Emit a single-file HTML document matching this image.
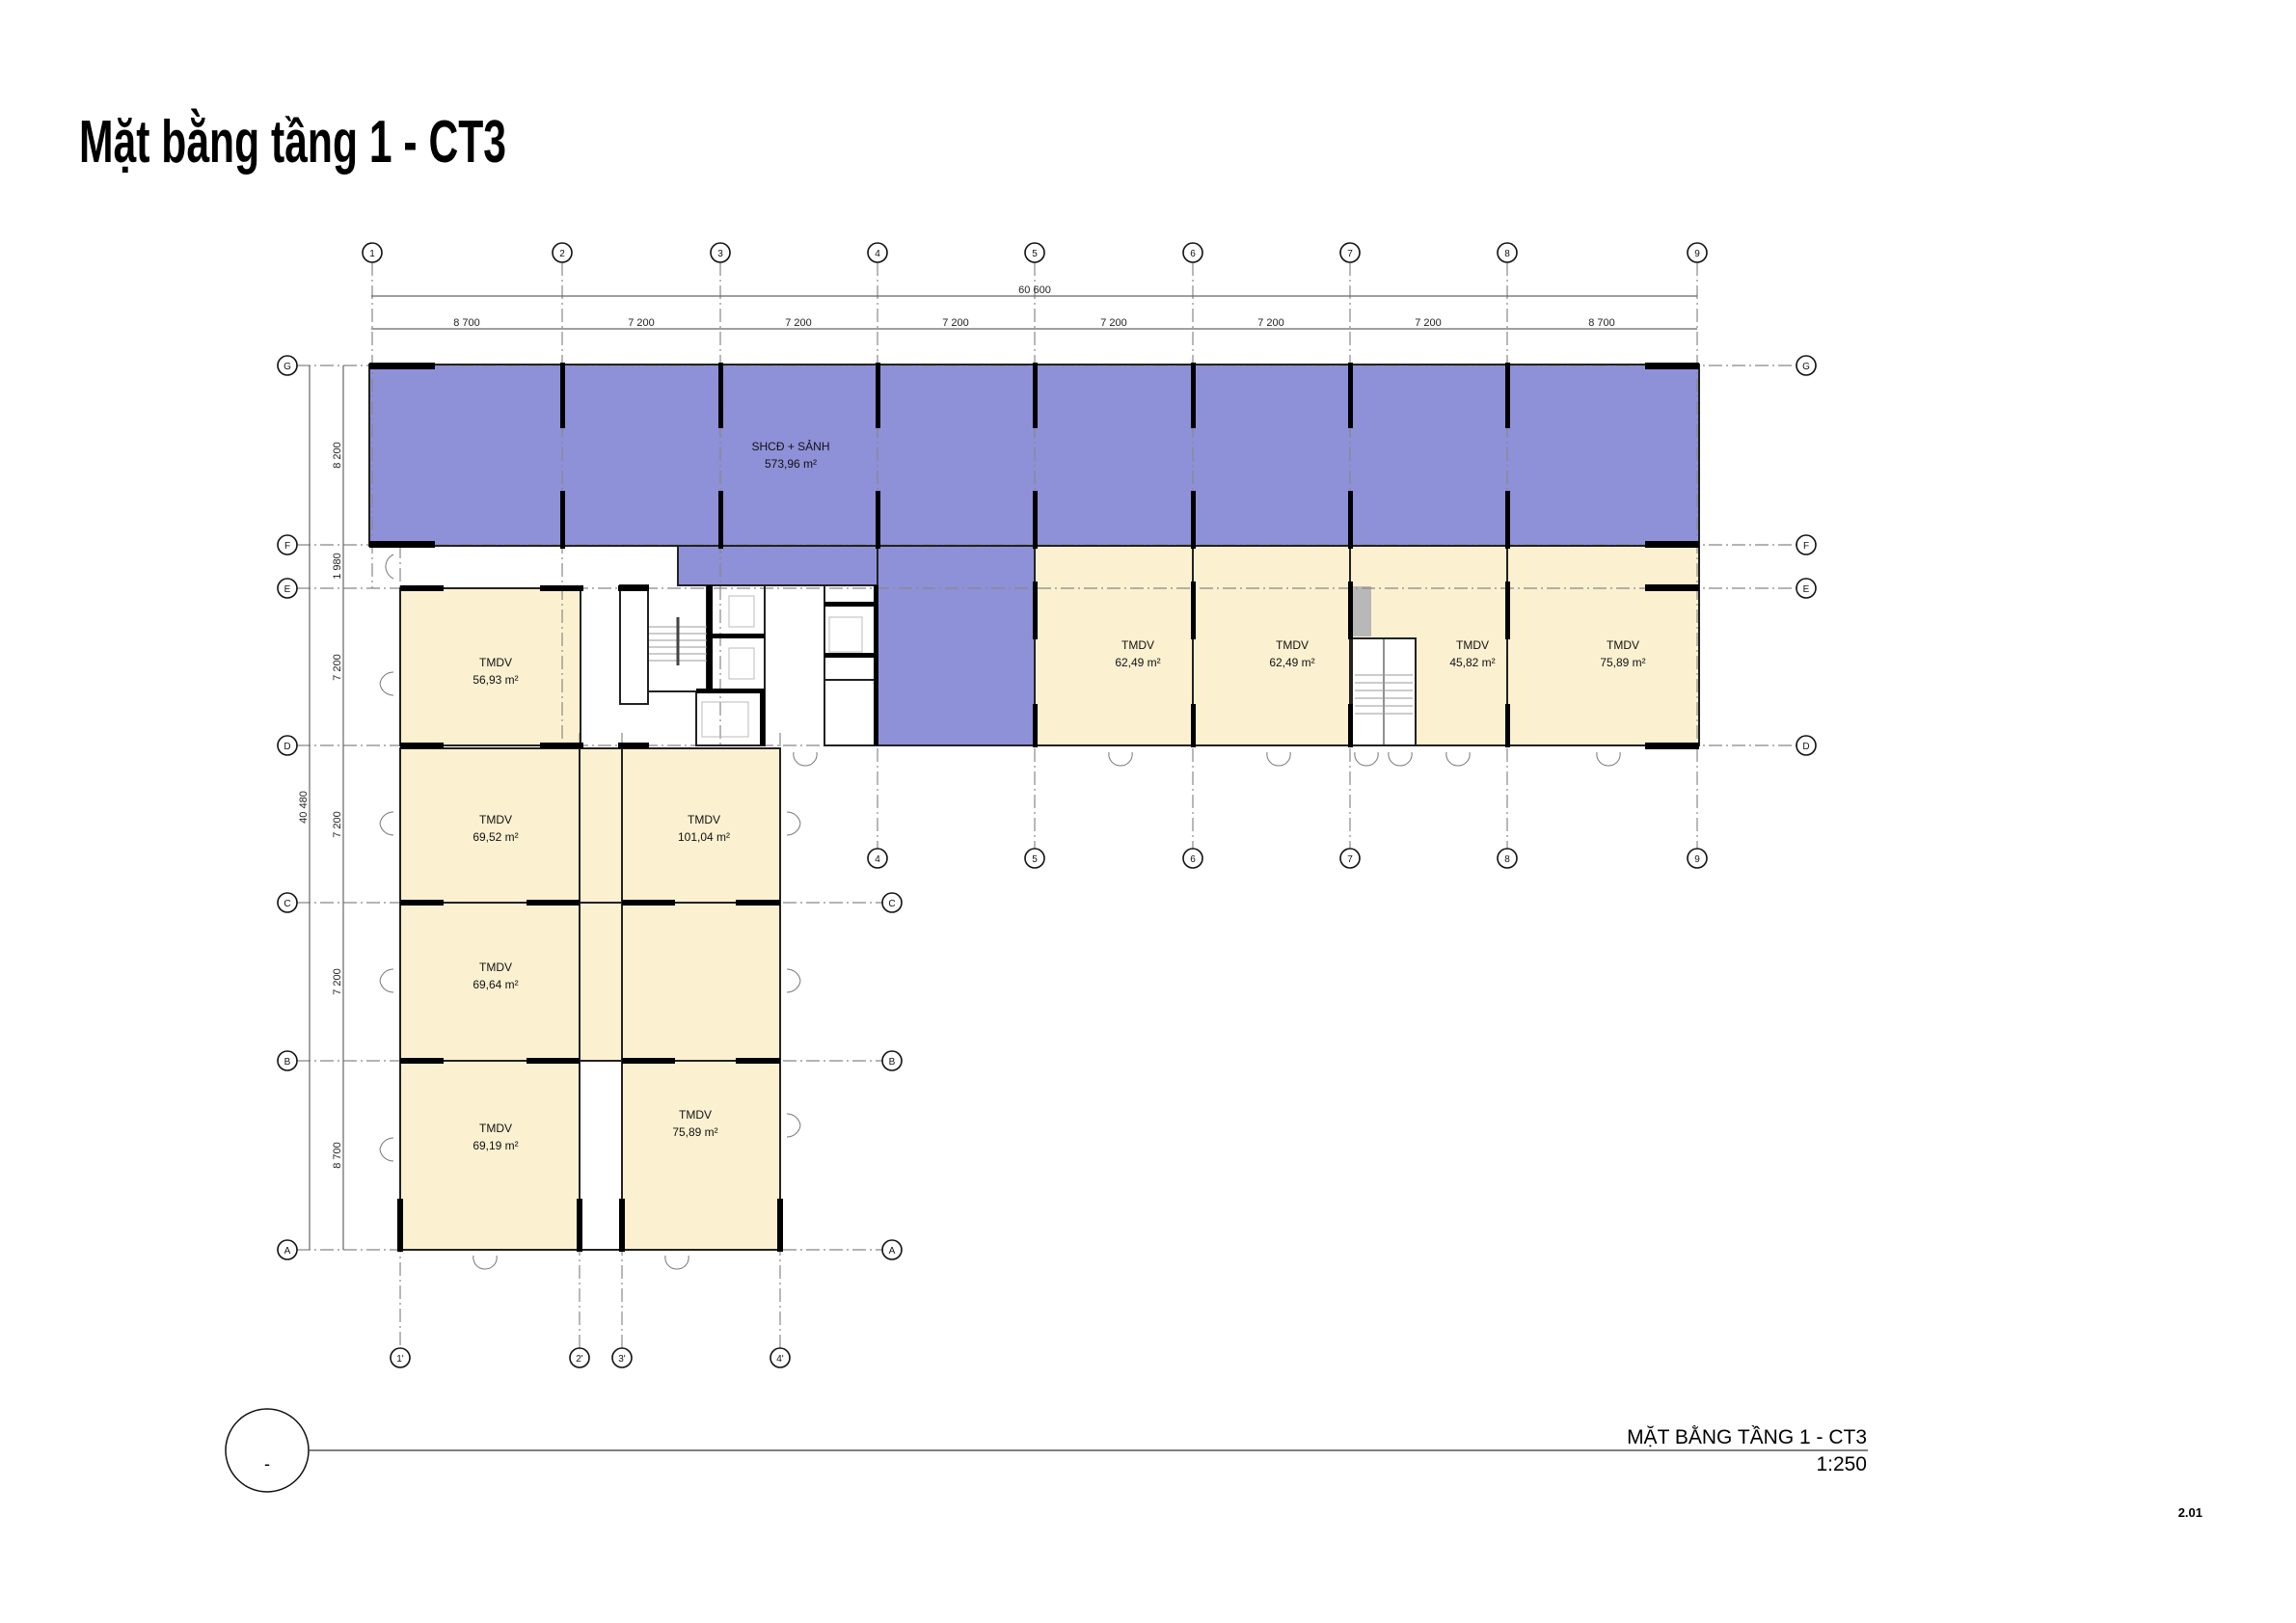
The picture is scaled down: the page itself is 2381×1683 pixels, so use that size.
<!DOCTYPE html>
<html><head><meta charset="utf-8"><style>
html,body{margin:0;padding:0;background:#fff}
svg{display:block}
text{font-family:"Liberation Sans",sans-serif}
</style></head><body>
<svg width="2381" height="1683" viewBox="0 0 2381 1683" xmlns="http://www.w3.org/2000/svg">
<text x="82" y="168" font-size="62" font-weight="bold" textLength="443" lengthAdjust="spacingAndGlyphs">Mặt bằng tầng 1 - CT3</text>

<!-- fills -->
<g stroke="none">
<rect x="383" y="378" width="1379" height="188" fill="#8e90d8"/>
<rect x="703" y="565" width="207" height="42" fill="#8e90d8"/>
<rect x="910" y="565" width="163" height="208" fill="#8e90d8"/>
<rect x="1073" y="566" width="689" height="207" fill="#fbf0d0"/>
<rect x="415" y="610" width="187" height="163" fill="#fbf0d0"/>
<rect x="415" y="776" width="394" height="324" fill="#fbf0d0"/>
<rect x="415" y="1100" width="186" height="196" fill="#fbf0d0"/>
<rect x="645" y="1100" width="164" height="196" fill="#fbf0d0"/>
<rect x="1403" y="608" width="19" height="52" fill="#b8b8b8"/>
<rect x="1402" y="662" width="66" height="111" fill="#fff"/>
</g>

<!-- grid lines -->
<g stroke="#888" stroke-width="1.2" stroke-dasharray="14,4,2,4" fill="none">
<line x1="386" y1="272" x2="386" y2="610"/>
<line x1="583" y1="272" x2="583" y2="773"/>
<line x1="747" y1="272" x2="747" y2="773"/>
<line x1="910" y1="272" x2="910" y2="880"/>
<line x1="1073" y1="272" x2="1073" y2="880"/>
<line x1="1237" y1="272" x2="1237" y2="880"/>
<line x1="1400" y1="272" x2="1400" y2="880"/>
<line x1="1563" y1="272" x2="1563" y2="880"/>
<line x1="1760" y1="272" x2="1760" y2="880"/>
<line x1="415" y1="565" x2="415" y2="1398"/>
<line x1="601" y1="760" x2="601" y2="1398"/>
<line x1="645" y1="760" x2="645" y2="1398"/>
<line x1="809" y1="760" x2="809" y2="1398"/>
<line x1="308" y1="379" x2="1863" y2="379"/>
<line x1="308" y1="565" x2="1863" y2="565"/>
<line x1="308" y1="610" x2="1863" y2="610"/>
<line x1="308" y1="773" x2="1863" y2="773"/>
<line x1="308" y1="936" x2="915" y2="936"/>
<line x1="308" y1="1100" x2="915" y2="1100"/>
<line x1="308" y1="1296" x2="915" y2="1296"/>
</g>

<!-- dimension lines -->
<g stroke="#666" stroke-width="1.2" fill="none">
<line x1="385" y1="307" x2="1760" y2="307"/>
<line x1="385" y1="341" x2="1760" y2="341"/>
<line x1="321" y1="379" x2="321" y2="1296"/>
<line x1="356" y1="379" x2="356" y2="1296"/>
</g>
<g font-size="11" fill="#222" text-anchor="middle">
<text x="1073" y="304">60 600</text>
<text x="484" y="338">8 700</text><text x="665" y="338">7 200</text><text x="828" y="338">7 200</text><text x="991" y="338">7 200</text><text x="1155" y="338">7 200</text><text x="1318" y="338">7 200</text><text x="1481" y="338">7 200</text><text x="1661" y="338">8 700</text>
<text transform="translate(353,472) rotate(-90)">8 200</text>
<text transform="translate(353,587) rotate(-90)">1 980</text>
<text transform="translate(353,692) rotate(-90)">7 200</text>
<text transform="translate(353,855) rotate(-90)">7 200</text>
<text transform="translate(353,1018) rotate(-90)">7 200</text>
<text transform="translate(353,1198) rotate(-90)">8 700</text>
<text transform="translate(318,837) rotate(-90)">40 480</text>
</g>

<!-- axis circles -->
<g fill="#fff" stroke="#111" stroke-width="1.6">
<circle cx="386" cy="262" r="10"/><circle cx="583" cy="262" r="10"/><circle cx="747" cy="262" r="10"/><circle cx="910" cy="262" r="10"/><circle cx="1073" cy="262" r="10"/><circle cx="1237" cy="262" r="10"/><circle cx="1400" cy="262" r="10"/><circle cx="1563" cy="262" r="10"/><circle cx="1760" cy="262" r="10"/>
<circle cx="910" cy="890" r="10"/><circle cx="1073" cy="890" r="10"/><circle cx="1237" cy="890" r="10"/><circle cx="1400" cy="890" r="10"/><circle cx="1563" cy="890" r="10"/><circle cx="1760" cy="890" r="10"/>
<circle cx="415" cy="1408" r="10"/><circle cx="601" cy="1408" r="10"/><circle cx="645" cy="1408" r="10"/><circle cx="809" cy="1408" r="10"/>
<circle cx="298" cy="379" r="10"/><circle cx="298" cy="565" r="10"/><circle cx="298" cy="610" r="10"/><circle cx="298" cy="773" r="10"/><circle cx="298" cy="936" r="10"/><circle cx="298" cy="1100" r="10"/><circle cx="298" cy="1296" r="10"/>
<circle cx="1873" cy="379" r="10"/><circle cx="1873" cy="565" r="10"/><circle cx="1873" cy="610" r="10"/><circle cx="1873" cy="773" r="10"/>
<circle cx="925" cy="936" r="10"/><circle cx="925" cy="1100" r="10"/><circle cx="925" cy="1296" r="10"/>
</g>
<g font-size="10" fill="#111" text-anchor="middle">
<text x="386" y="266">1</text><text x="583" y="266">2</text><text x="747" y="266">3</text><text x="910" y="266">4</text><text x="1073" y="266">5</text><text x="1237" y="266">6</text><text x="1400" y="266">7</text><text x="1563" y="266">8</text><text x="1760" y="266">9</text>
<text x="910" y="894">4</text><text x="1073" y="894">5</text><text x="1237" y="894">6</text><text x="1400" y="894">7</text><text x="1563" y="894">8</text><text x="1760" y="894">9</text>
<text x="415" y="1412">1'</text><text x="601" y="1412">2'</text><text x="645" y="1412">3'</text><text x="809" y="1412">4'</text>
<text x="298" y="383">G</text><text x="298" y="569">F</text><text x="298" y="614">E</text><text x="298" y="777">D</text><text x="298" y="940">C</text><text x="298" y="1104">B</text><text x="298" y="1300">A</text>
<text x="1873" y="383">G</text><text x="1873" y="569">F</text><text x="1873" y="614">E</text><text x="1873" y="777">D</text>
<text x="925" y="940">C</text><text x="925" y="1104">B</text><text x="925" y="1300">A</text>
</g>

<!-- walls outlines -->
<g stroke="#222" stroke-width="2" fill="none">
<rect x="383" y="378" width="1379" height="188"/>
<polyline points="383,566 703,566 703,607 910,607"/>
<line x1="910" y1="565" x2="910" y2="773"/>
<line x1="1073" y1="566" x2="1073" y2="773"/>
<polyline points="910,773 1762,773 1762,566"/>
<line x1="1237" y1="566" x2="1237" y2="773"/>
<line x1="1400" y1="566" x2="1400" y2="773"/>
<line x1="1563" y1="566" x2="1563" y2="773"/>
<polyline points="1402,773 1402,662 1468,662 1468,773"/>
<line x1="1435" y1="662" x2="1435" y2="773" stroke-width="1"/>
<rect x="415" y="610" width="187" height="163"/>
<rect x="415" y="776" width="394" height="520"/>
<line x1="601" y1="773" x2="601" y2="1296"/>
<line x1="645" y1="773" x2="645" y2="1296"/>
<line x1="415" y1="936" x2="809" y2="936"/>
<line x1="415" y1="1100" x2="809" y2="1100"/>
<line x1="601" y1="1100" x2="645" y2="1100"/>
<rect x="643" y="607" width="29" height="123"/>
<rect x="733" y="607" width="60" height="110"/>
<line x1="733" y1="660" x2="793" y2="660"/>
<rect x="722" y="717" width="71" height="56"/>
<rect x="855" y="607" width="55" height="166"/>
<line x1="855" y1="627" x2="910" y2="627"/>
<line x1="855" y1="680" x2="910" y2="680"/>
<line x1="855" y1="705" x2="910" y2="705"/>
<line x1="672" y1="717" x2="722" y2="717"/>
</g>
<!-- stair treads -->
<g stroke="#999" stroke-width="1">
<line x1="673" y1="650" x2="733" y2="650"/><line x1="673" y1="657" x2="733" y2="657"/><line x1="673" y1="664" x2="733" y2="664"/><line x1="673" y1="671" x2="733" y2="671"/><line x1="673" y1="678" x2="733" y2="678"/><line x1="673" y1="685" x2="733" y2="685"/>
<line x1="703" y1="640" x2="703" y2="690" stroke="#444" stroke-width="3"/>
<line x1="1405" y1="700" x2="1465" y2="700"/><line x1="1405" y1="708" x2="1465" y2="708"/><line x1="1405" y1="716" x2="1465" y2="716"/><line x1="1405" y1="724" x2="1465" y2="724"/><line x1="1405" y1="732" x2="1465" y2="732"/><line x1="1405" y1="740" x2="1465" y2="740"/>
<rect x="756" y="618" width="26" height="32" fill="none" stroke="#bbb"/><rect x="756" y="672" width="26" height="32" fill="none" stroke="#bbb"/><rect x="728" y="728" width="48" height="36" fill="none" stroke="#bbb"/><rect x="860" y="640" width="34" height="36" fill="none" stroke="#bbb"/>
</g>

<!-- black piers -->
<g fill="#000">
<rect x="383" y="376" width="68" height="7"/><rect x="383" y="561" width="68" height="7"/>
<rect x="1706" y="376" width="56" height="7"/><rect x="1706" y="561" width="56" height="7"/><rect x="1706" y="606" width="56" height="7"/><rect x="1706" y="770" width="56" height="7"/>
<rect x="581" y="376" width="5" height="68"/><rect x="745" y="376" width="5" height="68"/><rect x="908" y="376" width="5" height="68"/><rect x="1071" y="376" width="5" height="68"/><rect x="1235" y="376" width="5" height="68"/><rect x="1398" y="376" width="5" height="68"/><rect x="1561" y="376" width="5" height="68"/>
<rect x="581" y="509" width="5" height="60"/><rect x="745" y="509" width="5" height="60"/><rect x="908" y="509" width="5" height="60"/><rect x="1071" y="509" width="5" height="60"/><rect x="1235" y="509" width="5" height="60"/><rect x="1398" y="509" width="5" height="60"/><rect x="1561" y="509" width="5" height="60"/>
<rect x="1071" y="603" width="5" height="60"/><rect x="1235" y="603" width="5" height="60"/><rect x="1561" y="603" width="5" height="60"/><rect x="1398" y="603" width="5" height="60"/>
<rect x="1071" y="730" width="5" height="45"/><rect x="1235" y="730" width="5" height="45"/><rect x="1398" y="730" width="5" height="45"/><rect x="1561" y="730" width="5" height="45"/>
<rect x="415" y="607" width="45" height="6"/><rect x="560" y="607" width="45" height="6"/><rect x="641" y="607" width="32" height="6"/>
<rect x="415" y="770" width="45" height="6"/><rect x="560" y="770" width="45" height="6"/><rect x="641" y="770" width="32" height="6"/>
<rect x="415" y="933" width="45" height="6"/><rect x="546" y="933" width="55" height="6"/><rect x="645" y="933" width="55" height="6"/><rect x="763" y="933" width="46" height="6"/>
<rect x="415" y="1097" width="45" height="6"/><rect x="546" y="1097" width="55" height="6"/><rect x="645" y="1097" width="55" height="6"/><rect x="763" y="1097" width="46" height="6"/>
<rect x="412" y="1243" width="6" height="55"/><rect x="598" y="1243" width="6" height="55"/><rect x="642" y="1243" width="6" height="55"/><rect x="806" y="1243" width="6" height="55"/>
<rect x="733" y="607" width="6" height="110"/><rect x="733" y="657" width="60" height="5"/><rect x="722" y="714" width="71" height="5"/><rect x="788" y="717" width="5" height="56"/><rect x="855" y="624" width="55" height="5"/><rect x="855" y="677" width="55" height="5"/>
<rect x="906" y="607" width="5" height="166"/>
</g>
<!-- doors -->
<g stroke="#777" stroke-width="1" fill="none">
<path d="M408,697 a14,14 0 0 0 -14,12 M408,721 a14,14 0 0 1 -14,-12"/>
<path d="M408,842 a14,14 0 0 0 -14,12 M408,866 a14,14 0 0 1 -14,-12"/>
<path d="M408,1005 a14,14 0 0 0 -14,12 M408,1029 a14,14 0 0 1 -14,-12"/>
<path d="M408,1180 a14,14 0 0 0 -14,12 M408,1204 a14,14 0 0 1 -14,-12"/>
<path d="M816,842 a14,14 0 0 1 14,12 M816,866 a14,14 0 0 0 14,-12"/>
<path d="M816,1005 a14,14 0 0 1 14,12 M816,1029 a14,14 0 0 0 14,-12"/>
<path d="M816,1155 a14,14 0 0 1 14,12 M816,1179 a14,14 0 0 0 14,-12"/>
<path d="M491,1302 a12,12 0 0 0 12,14 M515,1302 a12,12 0 0 1 -12,14"/>
<path d="M690,1302 a12,12 0 0 0 12,14 M714,1302 a12,12 0 0 1 -12,14"/>
<path d="M823,780 a12,12 0 0 0 12,14 M847,780 a12,12 0 0 1 -12,14"/>
<path d="M1150,780 a12,12 0 0 0 12,14 M1174,780 a12,12 0 0 1 -12,14"/>
<path d="M1314,780 a12,12 0 0 0 12,14 M1338,780 a12,12 0 0 1 -12,14"/>
<path d="M1405,780 a12,12 0 0 0 12,14 M1429,780 a12,12 0 0 1 -12,14"/>
<path d="M1440,780 a12,12 0 0 0 12,14 M1464,780 a12,12 0 0 1 -12,14"/>
<path d="M1500,780 a12,12 0 0 0 12,14 M1524,780 a12,12 0 0 1 -12,14"/>
<path d="M1656,780 a12,12 0 0 0 12,14 M1680,780 a12,12 0 0 1 -12,14"/>
<path d="M408,575 a14,14 0 0 0 -8,14 M408,600 a14,14 0 0 1 -8,-12"/>
</g>

<!-- room labels -->
<g font-size="12" fill="#111" text-anchor="middle">
<text x="820" y="467">SHCĐ + SẢNH</text><text x="820" y="485">573,96 m²</text>
<text x="1180" y="673">TMDV</text><text x="1180" y="691">62,49 m²</text>
<text x="1340" y="673">TMDV</text><text x="1340" y="691">62,49 m²</text>
<text x="1527" y="673">TMDV</text><text x="1527" y="691">45,82 m²</text>
<text x="1683" y="673">TMDV</text><text x="1683" y="691">75,89 m²</text>
<text x="514" y="691">TMDV</text><text x="514" y="709">56,93 m²</text>
<text x="514" y="854">TMDV</text><text x="514" y="872">69,52 m²</text>
<text x="730" y="854">TMDV</text><text x="730" y="872">101,04 m²</text>
<text x="514" y="1007">TMDV</text><text x="514" y="1025">69,64 m²</text>
<text x="514" y="1174">TMDV</text><text x="514" y="1192">69,19 m²</text>
<text x="721" y="1160">TMDV</text><text x="721" y="1178">75,89 m²</text>
</g>

<!-- title block -->
<circle cx="277" cy="1504" r="43" fill="none" stroke="#111" stroke-width="1.5"/>
<text x="277" y="1524" font-size="18" text-anchor="middle">-</text>
<line x1="320" y1="1504" x2="1937" y2="1504" stroke="#333" stroke-width="1.2"/>
<text x="1936" y="1497" font-size="21" text-anchor="end">MẶT BẰNG TẦNG 1 - CT3</text>
<text x="1936" y="1525" font-size="21" text-anchor="end">1:250</text>
<text x="2284" y="1573" font-size="13" font-weight="bold" text-anchor="end">2.01</text>
</svg>
</body></html>
